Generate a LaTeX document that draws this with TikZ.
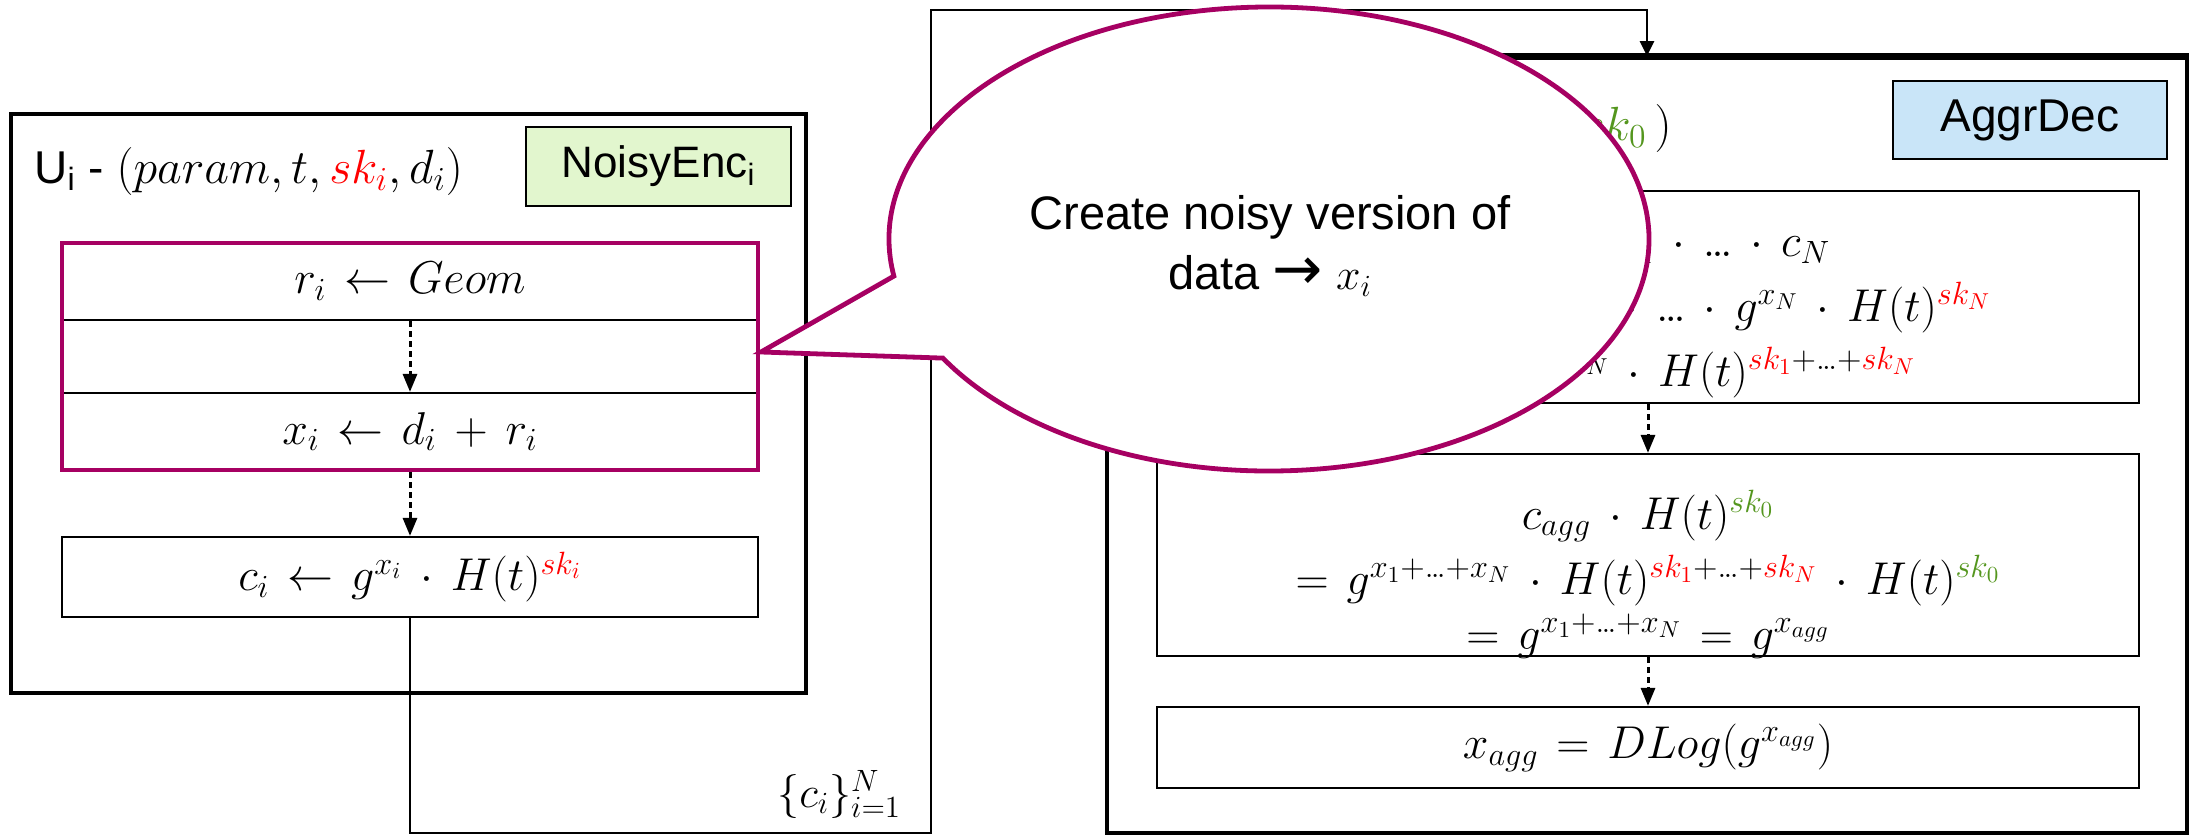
\RequirePackage{fix-cm}
\documentclass[tikz,border=0pt]{standalone}
\usepackage{fontspec}
\setsansfont{Liberation Sans}
\newfontfamily\arrowfont{DejaVu Sans}
\usetikzlibrary{arrows.meta}
\definecolor{callout}{RGB}{166,0,98}
\definecolor{encfill}{RGB}{226,246,206}
\definecolor{decfill}{RGB}{201,229,248}
\definecolor{skred}{RGB}{255,0,0}
\definecolor{skgreen}{RGB}{84,150,30}
\newcommand{\skr}[1]{\textcolor{skred}{#1}}
\newcommand{\skg}[1]{\textcolor{skgreen}{#1}}
% compact ellipsis with roomy spacing around operators
\newcommand{\tdots}{\mathinner{.\mkern-1.5mu.\mkern-1.5mu.}}
\newcommand{\mathset}{\fontsize{23}{32.5}\selectfont
  \medmuskip=7mu plus 2mu minus 2mu \thickmuskip=7mu plus 3mu}
\begin{document}
\begin{tikzpicture}[x=0.5pt,y=-0.5pt,
  outer/.style={draw, line width=2pt, inner sep=0pt},
  stepbox/.style={draw, line width=1.1pt, inner sep=0pt, align=center, font=\mathset},
  steptext/.style={inner sep=0pt, align=center, font=\mathset},
  tag/.style={draw, line width=1.2pt, inner sep=0pt,
    font=\fontsize{23}{27}\selectfont\sffamily},
  hl/.style={draw=callout, line width=2.4pt, inner sep=0pt},
  flow/.style={line width=1.5pt, dash pattern=on 3pt off 2pt,
    -{Triangle[length=9pt,width=7pt]}},
  wire/.style={line width=1.4pt}
]
\useasboundingbox (0,0) rectangle (2192,835);

% ---- user side: noisy encryption ----
\node[outer, minimum width=397.5pt, minimum height=289.5pt] (enc) at (408.5,403.5) {};
\node[tag, fill=encfill, minimum width=132.5pt, minimum height=39.5pt,
  font=\fontsize{22}{27}\selectfont\sffamily] (enctag)
  at (658.5,166.5) {NoisyEnc\textsubscript{i}};
\node[anchor=base west, inner sep=0pt, font=\fontsize{23}{27}\selectfont\sffamily] (enctitle)
  at (34,183) {U\textsubscript{i} - {\fontsize{24}{27}\selectfont$(param, t, \skr{sk_i}, d_i)$}};

\node[stepbox, minimum width=348pt, minimum height=38.5pt] (ri) at (410,281.5)
  {$r_i \leftarrow Geom$};
\node[stepbox, minimum width=348pt, minimum height=38.5pt] (xi) at (410,431.5)
  {$x_i \leftarrow d_i + r_i$};
\node[hl, minimum width=348pt, minimum height=113.5pt] (noise) at (410,356.5) {};
\node[stepbox, minimum width=348pt, minimum height=40pt] (ci) at (410,577)
  {$c_i \leftarrow g^{x_i}\cdot H(t)^{\skr{sk_i}}$};

\draw[flow] (ri.south) -- (xi.north);
\draw[flow] (noise.south) -- (ci.north);

% ---- aggregator side: decryption ----
\node[outer, minimum width=540pt, minimum height=387.5pt] (dec) at (1647,445.5) {};
\draw[line width=2.6pt] (dec.north west) -- (dec.north east);
\node[tag, fill=decfill, minimum width=137pt, minimum height=39pt] (dectag)
  at (2030,120) {AggrDec};
\node[anchor=base east, inner sep=0pt, font=\fontsize{24}{27}\selectfont] (dectitle)
  at (1672,140) {$(param, t, \skg{sk_0}\,)$};

\node[stepbox, minimum width=491pt, minimum height=106pt] (sum) at (1648,297) {};
\node[steptext] (sumtext) at (1655,317)
  {$c_{agg} = c_1\cdot \tdots \cdot c_N$\\
   $= g^{x_1}\cdot H(t)^{\skr{sk_1}}\cdot \tdots \cdot g^{x_N}\cdot H(t)^{\skr{sk_N}}$\\
   $= g^{x_1+\tdots+x_N}\cdot H(t)^{\skr{sk_1}+\tdots+\skr{sk_N}}$};
\node[stepbox, minimum width=491pt, minimum height=101pt] (unmask) at (1648,555) {};
\node[steptext] (unmasktext) at (1648,574)
  {$c_{agg}\cdot H(t)^{\skg{sk_0}}$\\
   $= g^{x_1+\tdots+x_N}\cdot H(t)^{\skr{sk_1}+\tdots+\skr{sk_N}}\cdot H(t)^{\skg{sk_0}}$\\[-5pt]
   $= g^{x_1+\tdots+x_N} = g^{x_{agg}}$};
\node[stepbox, minimum width=491pt, minimum height=40.5pt] (dlog) at (1648,747.5)
  {$x_{agg} = DLog(g^{x_{agg}})$};

\draw[flow] (sum.south) -- (unmask.north);
\draw[flow] (unmask.south) -- (dlog.north);

% ---- ciphertexts sent to the aggregator ----
\coordinate (w1) at (410,833);
\coordinate (w2) at (931,833);
\coordinate (w3) at (931,10);
\draw[wire, -{Triangle[length=7.5pt,width=7pt]}]
  (ci.south) -- (w1) -- (w2) -- (w3) -| (dec.north);
\node[anchor=base west, inner sep=0pt, font=\fontsize{22}{24}\selectfont] (cset)
  at (777,807) {$\{c_i\}_{i=1}^N$};

% ---- speech bubble ----
\coordinate (tip) at (761,352);
\filldraw[fill=white, draw=callout, line width=2.4pt]
  (942.9,358.1) -- (tip) -- (893.9,276.1)
  arc[start angle=189.2, end angle=-149.1, x radius=190pt, y radius=116pt] -- cycle;
\node[align=center, inner sep=0pt, font=\fontsize{23.5}{30}\selectfont\sffamily] (note)
  at (1270,246) {Create noisy version of\\data {\arrowfont\fontsize{30}{30}\selectfont →} {\fontsize{22}{24}\selectfont$x_i$}};
\end{tikzpicture}
\end{document}
